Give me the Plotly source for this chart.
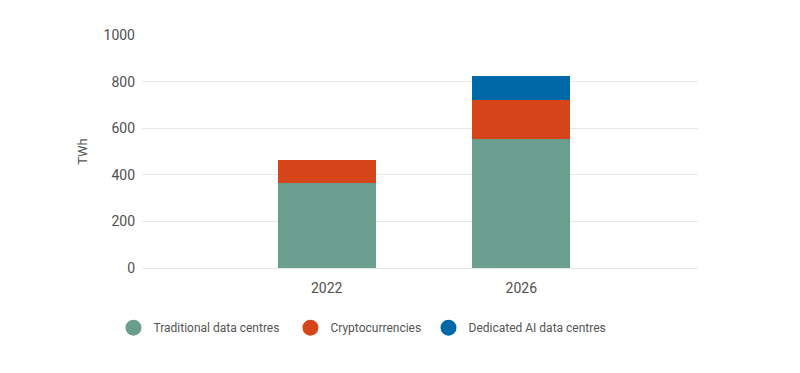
import plotly.graph_objects as go

years = ["2022", "2026"]
traditional = [365, 554]
crypto = [100, 168]
ai = [None, 103]

series = [
    ("Traditional data centres", traditional, "#6A9F8F"),
    ("Cryptocurrencies", crypto, "#D6441A"),
    ("Dedicated AI data centres", ai, "#0068A6"),
]
legend_ids = ["legend", "legend2", "legend3"]
legend_x = [-0.0513, 0.267, 0.5153]

fig = go.Figure()
for name, vals, col in series:
    fig.add_trace(go.Bar(x=years, y=vals, name=name, marker=dict(color=col, line=dict(width=0)),
                         width=0.505, showlegend=False))
for (name, vals, col), lid in zip(series, legend_ids):
    fig.add_trace(go.Scatter(x=[None], y=[None], mode="markers", name=name, legend=lid,
                             marker=dict(color=col, size=16, symbol="circle")))

leg_common = dict(orientation="h", xanchor="left", y=-0.256, yanchor="middle",
                  font=dict(size=12, color="#555555"), itemsizing="trace",
                  bgcolor="rgba(0,0,0,0)")

fig.update_layout(
    barmode="stack",
    width=800, height=373,
    margin=dict(l=142, r=102, t=35, b=105, autoexpand=False),
    paper_bgcolor="white", plot_bgcolor="white",
    font=dict(family="Roboto", size=13, color="#555555"),
    xaxis=dict(type="category", range=[-0.949, 1.908], showgrid=False, showline=False,
               ticks="", ticklabelstandoff=10, tickfont=dict(size=14, color="#505050")),
    yaxis=dict(range=[0, 1000], dtick=200, showgrid=True, gridcolor="#E6E6E6", gridwidth=1,
               zeroline=True, zerolinecolor="#E6E6E6", zerolinewidth=1,
               ticks="", ticklabelstandoff=6,
               title=dict(text="TWh", font=dict(size=13, color="#555555"), standoff=12),
               tickfont=dict(size=14, color="#505050")),
    legend=dict(x=legend_x[0], **leg_common),
    legend2=dict(x=legend_x[1], **leg_common),
    legend3=dict(x=legend_x[2], **leg_common),
)
fig.write_html("out.html", config={"displayModeBar": False},
               post_script="document.body.style.margin='0';")
